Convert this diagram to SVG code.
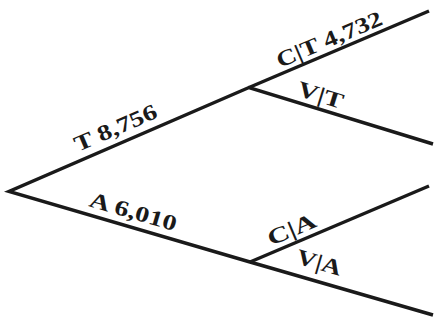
<svg xmlns="http://www.w3.org/2000/svg" width="435" height="321" viewBox="0 0 435 321">
  <style>
    .edge { stroke: #1a1a1a; stroke-width: 3.4; fill: none; stroke-linecap: butt; stroke-linejoin: miter; }
    .lbl { font-family: "Liberation Serif", "Times New Roman", serif; font-weight: bold; font-size: 22px; fill: #1a1a1a; }
  </style>
  <rect width="435" height="321" fill="#ffffff"/>

  <!-- tree branches -->
  <g id="connectors">
    <polyline class="edge" points="433,144 249,87.5 9,191.5 250,262 433,315"/>
    <line class="edge" x1="249" y1="87.5" x2="429" y2="11"/>
    <line class="edge" x1="250" y1="262" x2="429" y2="186"/>
  </g>

  <!-- branch labels -->
  <g id="branch-T">
    <text class="lbl" transform="translate(78,152) rotate(-23.4)" textLength="88" lengthAdjust="spacingAndGlyphs">T 8,756</text>
  </g>
  <g id="branch-CT">
    <text class="lbl" transform="translate(280,68) rotate(-22.9)" textLength="113" lengthAdjust="spacingAndGlyphs">C|T 4,732</text>
  </g>
  <g id="branch-VT">
    <text class="lbl" transform="translate(296,95) rotate(17.2)" textLength="47" lengthAdjust="spacingAndGlyphs">V|T</text>
  </g>
  <g id="branch-A">
    <text class="lbl" transform="translate(88,206) rotate(16.2)" textLength="90" lengthAdjust="spacingAndGlyphs">A 6,010</text>
  </g>
  <g id="branch-CA">
    <text class="lbl" transform="translate(271,246) rotate(-23)" textLength="51" lengthAdjust="spacingAndGlyphs">C|A</text>
  </g>
  <g id="branch-VA">
    <text class="lbl" transform="translate(295,263) rotate(16.2)" textLength="46" lengthAdjust="spacingAndGlyphs">V|A</text>
  </g>
</svg>
